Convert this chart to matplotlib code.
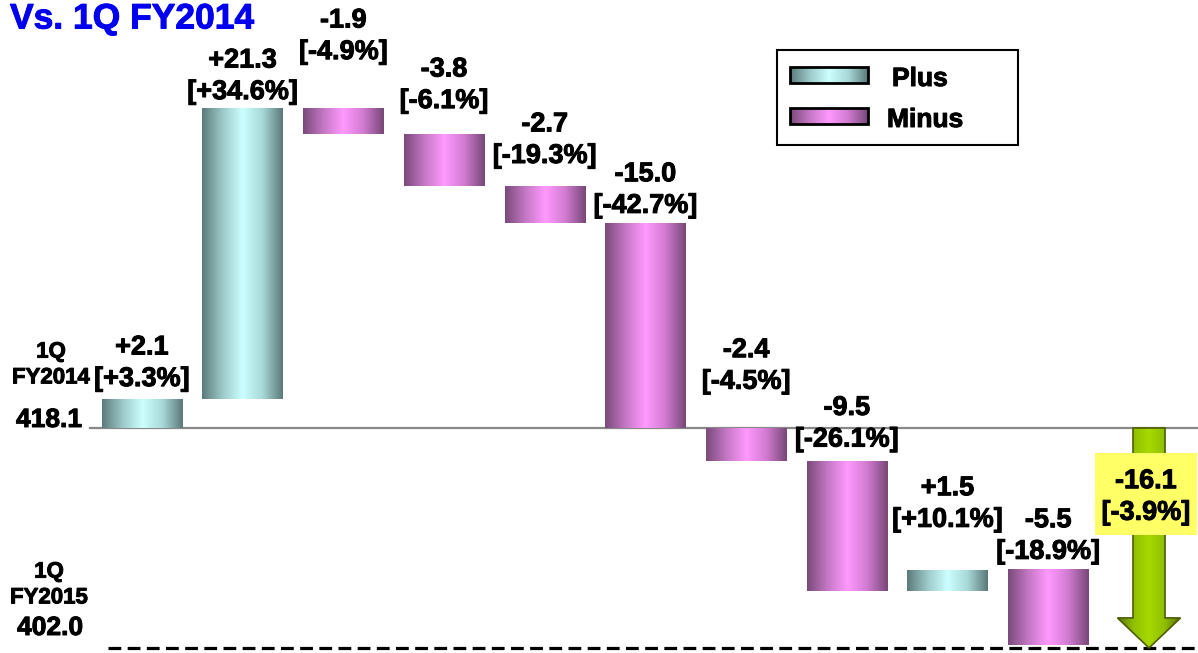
import numpy as np
import matplotlib.pyplot as plt
import matplotlib.patheffects as pe
from matplotlib.colors import LinearSegmentedColormap
from matplotlib.patches import Rectangle, Polygon

plt.rcParams['font.family'] = ['Liberation Sans', 'DejaVu Sans']
plt.rcParams['font.weight'] = 'bold'

# data
start_val = 418.1
end_val = 402.0
deltas = [2.1, 21.3, -1.9, -3.8, -2.7, -15.0, -2.4, -9.5, 1.5, -5.5]
pcts = ['+3.3%', '+34.6%', '-4.9%', '-6.1%', '-19.3%', '-42.7%',
        '-4.5%', '-26.1%', '+10.1%', '-18.9%']
total = -16.1
total_pct = '-3.9%'
start_label = '1Q\nFY2014'
end_label = '1Q\nFY2015'

# label gap above bar top (pixels)
label_gap = [36, 32, 72, 49, 46, 33, 62, 37, 66, 34]

# pixel <-> data helpers (layout only)
X0, XS = 142, 100.7
Y0, YS = 428, 13.66
def dx(px):
    return (px - X0) / XS
def dy(py):
    return start_val - (py - Y0) / YS

fig = plt.figure(figsize=(11.98, 6.53), dpi=100)
ax = fig.add_axes([0, 0, 1, 1])
ax.axis('off')

heavy = [pe.withStroke(linewidth=0.7, foreground='black')]

plus_cmap = LinearSegmentedColormap.from_list(
    'plus', ['#5c7a7a', '#9cc8c8', '#ccffff', '#a8d8d8', '#5c7878'])
minus_cmap = LinearSegmentedColormap.from_list(
    'minus', ['#7a4a7a', '#c477c4', '#ff99ff', '#d07ad0', '#774877'])
green_cmap = LinearSegmentedColormap.from_list(
    'green', ['#5a6e00', '#8fbf00', '#a6d900', '#8fbf00', '#5a6e00'])

g = np.linspace(0, 1, 256).reshape(1, -1)
def grad(x0, x1, y0, y1, cmap, z=2):
    return ax.imshow(g, cmap=cmap, extent=[x0, x1, y0, y1], aspect='auto',
                     interpolation='bicubic', zorder=z)

# waterfall bars
w = 0.8
level = start_val
for i, d in enumerate(deltas):
    lo, hi = sorted([level, level + d])
    grad(i - w / 2, i + w / 2, lo, hi, plus_cmap if d > 0 else minus_cmap)
    txt = f'{d:+.1f}\n[{pcts[i]}]'
    ax.text(i, hi + label_gap[i] / YS, txt, ha='center', va='center',
            fontsize=19.5, linespacing=1.28, zorder=4, path_effects=heavy)
    level += d

# reference lines
ax.axhline(start_val, xmin=90 / 1198, xmax=1, color='#888888', lw=1.6, zorder=1)
ax.axhline(end_val, xmin=108 / 1198, xmax=1, color='black', lw=2.3,
           linestyle=(0, (4, 2)), zorder=1)

# total arrow
ai = len(deltas)
sh, hh = 0.159, 0.313
tip = start_val + total
hb = tip + 30 / YS
pts = [(ai - sh, start_val), (ai + sh, start_val), (ai + sh, hb), (ai + hh, hb),
       (ai, tip), (ai - hh, hb), (ai - sh, hb)]
arrow = Polygon(pts, closed=True, facecolor='none', edgecolor='#4d5e00', lw=1.2, zorder=3)
ax.add_patch(arrow)
im = grad(ai - hh, ai + hh, tip, start_val, green_cmap)
im.set_clip_path(arrow)

# total box
ax.add_patch(Rectangle((dx(1095), dy(535)), dx(1197) - dx(1095), dy(453) - dy(535),
                       facecolor='#ffff66', edgecolor='none', zorder=4))
ax.text(dx(1146), dy(497), f'{total:.1f}\n[{total_pct}]', ha='center', va='center',
        fontsize=19.5, linespacing=1.28, zorder=5, path_effects=heavy)

# left labels
ax.text(dx(51), dy(365), start_label, ha='center', va='center', fontsize=16,
        linespacing=1.3, path_effects=heavy)
ax.text(dx(49), dy(420), f'{start_val:.1f}', ha='center', va='center', fontsize=19,
        path_effects=heavy)
ax.text(dx(49), dy(585), end_label, ha='center', va='center', fontsize=16,
        linespacing=1.3, path_effects=heavy)
ax.text(dx(50), dy(628), f'{end_val:.1f}', ha='center', va='center', fontsize=19,
        path_effects=heavy)

# title
ax.text(dx(10), dy(19), 'Vs. 1Q FY2014', ha='left', va='center', fontsize=25.5,
        color='#0000ee', path_effects=[pe.withStroke(linewidth=0.7, foreground='#0000ee')])

# legend
ax.add_patch(Rectangle((dx(777), dy(145)), dx(1018) - dx(777), dy(50) - dy(145),
                       facecolor='white', edgecolor='black', lw=1.5, zorder=4))
for yy, cm, name, tx in [(75, plus_cmap, 'Plus', 892), (116, minus_cmap, 'Minus', 887)]:
    grad(dx(790), dx(868), dy(yy + 8), dy(yy - 8), cm, z=5)
    ax.add_patch(Rectangle((dx(790), dy(yy + 8)), dx(868) - dx(790), 16 / YS,
                           facecolor='none', edgecolor='black', lw=2, zorder=6))
    ax.text(dx(tx), dy(yy + 4), name, ha='left', va='center', fontsize=19, zorder=6,
            path_effects=heavy)

ax.set_xlim(dx(0), dx(1198))
ax.set_ylim(dy(653), dy(0))
plt.savefig('out.png', dpi=100)
